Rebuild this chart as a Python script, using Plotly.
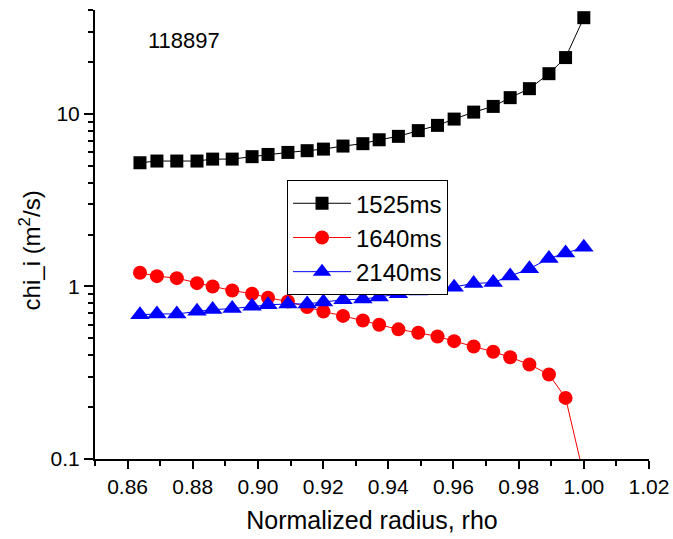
import plotly.graph_objects as go

rho = [0.8638, 0.8690, 0.8751, 0.8813, 0.8861, 0.8921, 0.8982, 0.9031, 0.9092,
       0.9151, 0.9201, 0.9261, 0.9322, 0.9372, 0.9431, 0.9492, 0.9551, 0.9602,
       0.9662, 0.9722, 0.9774, 0.9833, 0.9893, 0.9944, 1.0000]

chi_1525 = [5.21, 5.33, 5.33, 5.33, 5.47, 5.47, 5.65, 5.82, 5.98, 6.12, 6.25,
            6.51, 6.72, 7.08, 7.41, 8.00, 8.58, 9.33, 10.24, 11.05, 12.42, 14.0,
            17.1, 21.2, 36.1]

chi_1640 = [1.20, 1.147, 1.117, 1.045, 1.0, 0.948, 0.907, 0.860, 0.818, 0.759,
            0.716, 0.675, 0.635, 0.600, 0.564, 0.539, 0.513, 0.482, 0.449, 0.418,
            0.389, 0.353, 0.309, 0.226, 0.08]

chi_2140 = [0.685, 0.693, 0.693, 0.718, 0.734, 0.744, 0.768, 0.782, 0.792, 0.792,
            0.813, 0.836, 0.845, 0.868, 0.906, 0.940, 0.957, 0.990, 1.040, 1.054,
            1.148, 1.266, 1.453, 1.562, 1.685]

series_names = ["1525ms", "1640ms", "2140ms"]

x_ticks = [0.86, 0.88, 0.90, 0.92, 0.94, 0.96, 0.98, 1.00, 1.02]
x_ticktext = ["0.86", "0.88", "0.90", "0.92", "0.94", "0.96", "0.98", "1.00", "1.02"]
y_ticks = [0.1, 1, 10]
y_ticktext = ["0.1", "1", "10"]
y_minor = [0.2, 0.3, 0.4, 0.5, 0.6, 0.7, 0.8, 0.9,
           2, 3, 4, 5, 6, 7, 8, 9, 20, 30, 40]

FONT = "Liberation Sans, Arial, sans-serif"

fig = go.Figure()
fig.add_trace(go.Scatter(x=rho, y=chi_1525, name=series_names[0], mode="lines+markers",
                         line=dict(color="black", width=1),
                         marker=dict(symbol="square", size=13, color="black")))
fig.add_trace(go.Scatter(x=rho, y=chi_1640, name=series_names[1], mode="lines+markers",
                         line=dict(color="#ff0000", width=1),
                         marker=dict(symbol="circle", size=14, color="#ff0000")))
fig.add_trace(go.Scatter(x=rho, y=chi_2140, name=series_names[2], mode="lines+markers",
                         line=dict(color="#0000ff", width=1),
                         marker=dict(symbol="triangle-up", size=17, color="#0000ff")))

fig.update_layout(
    width=673, height=539,
    margin=dict(l=95, r=24, t=10, b=80, autoexpand=False),
    paper_bgcolor="white", plot_bgcolor="white",
    font=dict(family=FONT, color="black", size=21),
    showlegend=True,
    legend=dict(x=0.3466, y=0.621, xanchor="left", yanchor="top",
                bordercolor="black", borderwidth=1, bgcolor="white",
                font=dict(size=24, family=FONT), tracegroupgap=0,
                itemwidth=58),
    xaxis=dict(range=[0.85, 1.02], tickvals=x_ticks, ticktext=x_ticktext,
               automargin=False,
               showgrid=False, zeroline=False, showline=True, linecolor="black",
               linewidth=2, ticks="outside", ticklen=8, tickwidth=2, tickcolor="black",
               tickfont=dict(size=21),
               minor=dict(dtick=0.01, tick0=0.85, ticks="outside", ticklen=5,
                          tickwidth=2, tickcolor="black", showgrid=False),
               title=dict(text="Normalized radius, rho", font=dict(size=25), standoff=14)),
    yaxis=dict(type="log", range=[-1, 1.60206], tickvals=y_ticks, ticktext=y_ticktext,
               automargin=False,
               showgrid=False, zeroline=False, showline=True, linecolor="black",
               linewidth=2, ticks="outside", ticklen=9, tickwidth=2, tickcolor="black",
               tickfont=dict(size=21),
               minor=dict(tickvals=y_minor, ticks="outside", ticklen=5,
                          tickwidth=2, tickcolor="black", showgrid=False)),
    annotations=[
        dict(text="118897", xref="paper", yref="paper", x=0.092, y=0.931,
             xanchor="left", yanchor="middle", showarrow=False,
             font=dict(size=22, family=FONT)),
        dict(text="chi_i (m<sup>2</sup>/s)", xref="paper", yref="paper",
             x=-0.117, y=0.465, xanchor="center", yanchor="middle",
             textangle=-90, showarrow=False, font=dict(size=24, family=FONT)),
    ],
)

fig.write_html("out.html")
